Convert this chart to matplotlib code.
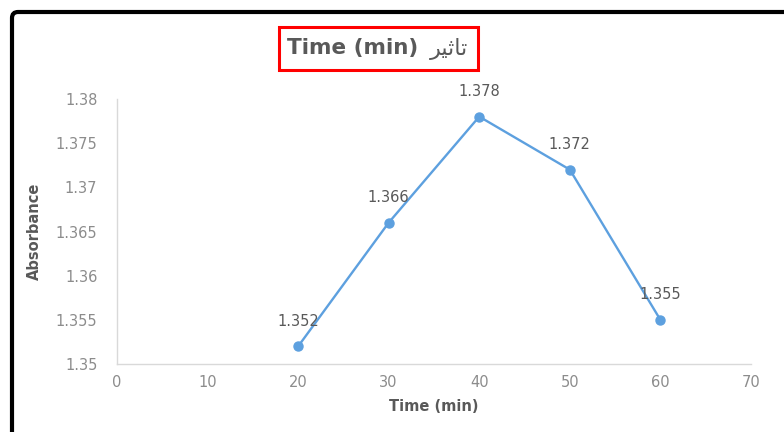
import matplotlib.pyplot as plt
from matplotlib.patches import FancyBboxPatch, Rectangle

# Absorbance against time
TIME_MIN = [20, 30, 40, 50, 60]
ABSORBANCE = [1.352, 1.366, 1.378, 1.372, 1.355]
X_TICKS = [0, 10, 20, 30, 40, 50, 60, 70]
Y_TICKS = [1.35, 1.355, 1.36, 1.365, 1.37, 1.375, 1.38]
Y_TICK_LABELS = ["1.35", "1.355", "1.36", "1.365", "1.37", "1.375", "1.38"]

# "تاثير" in presentation forms, laid out left to right so it reads joined
ARABIC_WORD = "\uFEAE\uFEF4\uFE9B\uFE8E\uFE97"

LINE = "#5DA0DF"
TEXT = "#595959"
TICK = "#8C8C8C"
SPINE = "#D9D9D9"

plt.rcParams["font.family"] = ["DejaVu Sans"]

fig = plt.figure(figsize=(7.84, 4.32), dpi=100)
ax = fig.add_axes([0.149, 0.157, 0.809, 0.614])

ax.plot(TIME_MIN, ABSORBANCE, color=LINE, lw=1.7, marker="o", ms=6.5, zorder=3)
for x, y in zip(TIME_MIN, ABSORBANCE):
    ax.annotate(f"{y:g}", (x, y), xytext=(0, 18), textcoords="offset points",
                ha="center", va="center", fontsize=10.5, color=TEXT)

ax.set_xlim(0, 70)
ax.set_ylim(1.35, 1.38)
ax.set_xticks(X_TICKS)
ax.set_yticks(Y_TICKS)
ax.set_yticklabels(Y_TICK_LABELS)
ax.tick_params(length=0, labelsize=10.5, colors=TICK, pad=8)
ax.tick_params(axis="y", pad=14)
for side in ("top", "right"):
    ax.spines[side].set_visible(False)
for side in ("left", "bottom"):
    ax.spines[side].set_color(SPINE)
    ax.spines[side].set_linewidth(1.0)

ax.set_xlabel("Time (min)", fontsize=10.5, fontweight="bold", color=TEXT, labelpad=6)
ax.set_ylabel("Absorbance", fontsize=10.5, fontweight="bold", color=TEXT, labelpad=10)

# title: English part bold, Arabic word regular, inside a red box
fig.text(0.366, 0.889, "Time (min)", ha="left", va="center", fontsize=15.5,
         fontweight="bold", color=TEXT)
fig.text(0.548, 0.887, ARABIC_WORD, ha="left", va="center", fontsize=16,
         color=TEXT)
fig.patches.append(Rectangle((279, 432 - 70), 199, 43, transform=None, fill=False,
                             ec="#FF0000", lw=2.2))

# heavy black frame, rounded at the top-left corner
frame = FancyBboxPatch((12, -40), 820, 460, boxstyle="round,pad=0,rounding_size=6",
                       transform=None, fill=False, ec="black", lw=3.0, clip_on=False)
fig.patches.append(frame)

fig.savefig("out.png", dpi=100)
